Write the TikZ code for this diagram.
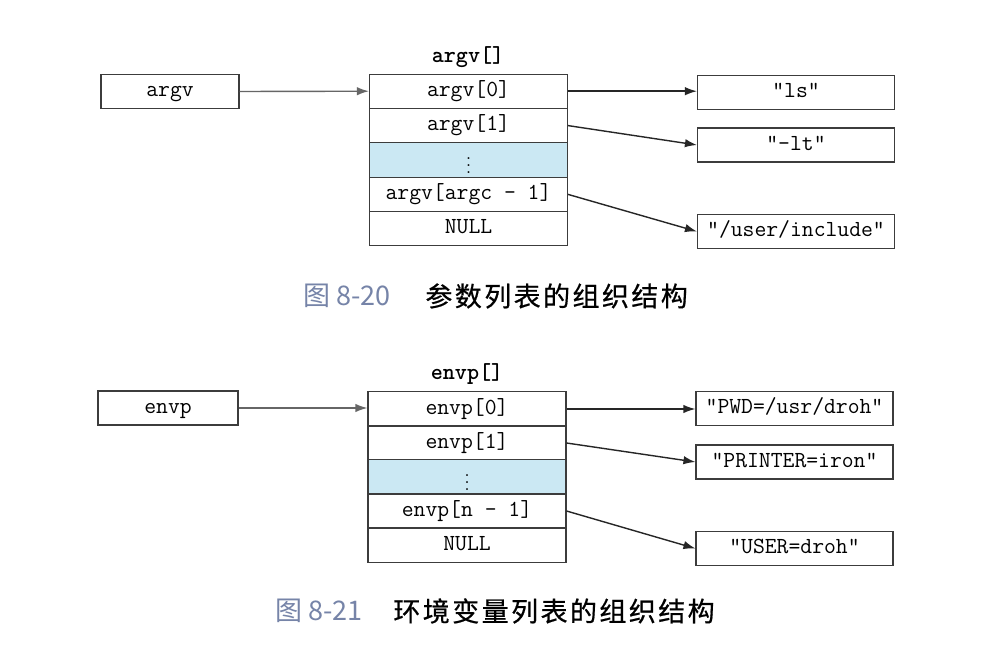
\documentclass[tikz,border=0pt]{standalone}
\usepackage{fontspec}
\newfontfamily\cjk{Noto Sans CJK SC}
\newfontfamily\cjkls{Noto Sans CJK SC}[LetterSpace=9,FakeBold=0.6]
\usetikzlibrary{arrows.meta}
\definecolor{rowblue}{RGB}{203,232,243}
\definecolor{capgray}{RGB}{118,132,168}
\definecolor{linegray}{RGB}{60,60,60}
\begin{document}
\begin{tikzpicture}[x=0.5pt,y=-0.5pt,
  cell/.style={draw=linegray,line width=0.55pt,minimum width=99pt,minimum height=17.1pt,inner sep=0pt,text height=7.2pt,text depth=2pt,font=\fontsize{11.5}{13}\ttfamily},
  ptrbox/.style={draw=linegray,line width=0.55pt,minimum height=17pt,inner sep=0pt,text height=7.2pt,text depth=2pt,font=\fontsize{11.5}{13}\ttfamily},
  strbox/.style={draw=linegray,line width=0.55pt,minimum width=98.5pt,minimum height=17pt,inner sep=0pt,text height=7.2pt,text depth=2pt,font=\fontsize{11.5}{13}\ttfamily},
  dotscell/.style={draw=linegray,line width=0.55pt,minimum width=99pt,minimum height=17.1pt,inner sep=0pt,fill=rowblue},
  ttl/.style={inner sep=0pt,font=\fontsize{11.5}{13}\ttfamily\bfseries},
  conn/.style={line width=0.7pt,black!85,-{Latex[length=6pt,width=4.2pt]}},
  conn0/.style={line width=0.7pt,black!60,-{Latex[length=6pt,width=4.2pt]}},
  captxt/.style={inner sep=0pt,anchor=west,font=\fontsize{13.5}{15}\cjk}
]
\useasboundingbox[fill=white] (0,0) rectangle (981,647);

% ---------- figure 8-20 ----------
\node[ttl] (atitle) at (468,57) {argv[]};
\node[ptrbox,minimum width=69pt] (argv) at (170,91.5) {argv};
\node[cell] (a0) at (468.5,91.2) {argv[0]};
\node[cell] (a1) at (468.5,125.6) {argv[1]};
\node[dotscell] (a2) at (468.5,160) {\scalebox{0.9}{$\vdots$}};
\node[cell] (a3) at (468.5,194.4) {argv[argc - 1]};
\node[cell] (a4) at (468.5,228.8) {NULL};
\node[strbox] (s0) at (796,92.5) {"ls"};
\node[strbox] (s1) at (796,145) {"-lt"};
\node[strbox] (s2) at (796,231.5) {"/user/include"};
\draw[conn0] (argv.east) -- (a0.west);
\draw[conn] (a0.east) -- (s0.west |- a0.east);
\draw[conn] (a1.east) -- (s1.west);
\draw[conn] (a3.east) -- (s2.west);
\node[captxt,text=capgray] (c1a) at (303,296) {图 8-20};
\node[captxt,font=\fontsize{13.5}{15}\cjkls] (c1b) at (425,296) {参数列表的组织结构};

% ---------- figure 8-21 ----------
\node[ttl] (etitle) at (467,374) {envp[]};
\node[ptrbox,minimum width=70pt] (envp) at (168,408) {envp};
\node[cell] (e0) at (467,409) {envp[0]};
\node[cell] (e1) at (467,443) {envp[1]};
\node[dotscell] (e2) at (467,477) {\scalebox{0.9}{$\vdots$}};
\node[cell] (e3) at (467,511) {envp[n - 1]};
\node[cell] (e4) at (467,545) {NULL};
\node[strbox] (t0) at (794.5,408.5) {"PWD=/usr/droh"};
\node[strbox] (t1) at (794.5,462) {"PRINTER=iron"};
\node[strbox] (t2) at (794.5,548.5) {"USER=droh"};
\draw[conn0] (envp.east) -- (e0.west |- envp.east);
\draw[conn] (e0.east) -- (t0.west |- e0.east);
\draw[conn] (e1.east) -- (t1.west);
\draw[conn] (e3.east) -- (t2.west);
\node[captxt,text=capgray] (c2a) at (275,611) {图 8-21};
\node[captxt,font=\fontsize{13.5}{15}\cjkls] (c2b) at (393,611) {环境变量列表的组织结构};
\end{tikzpicture}
\end{document}
